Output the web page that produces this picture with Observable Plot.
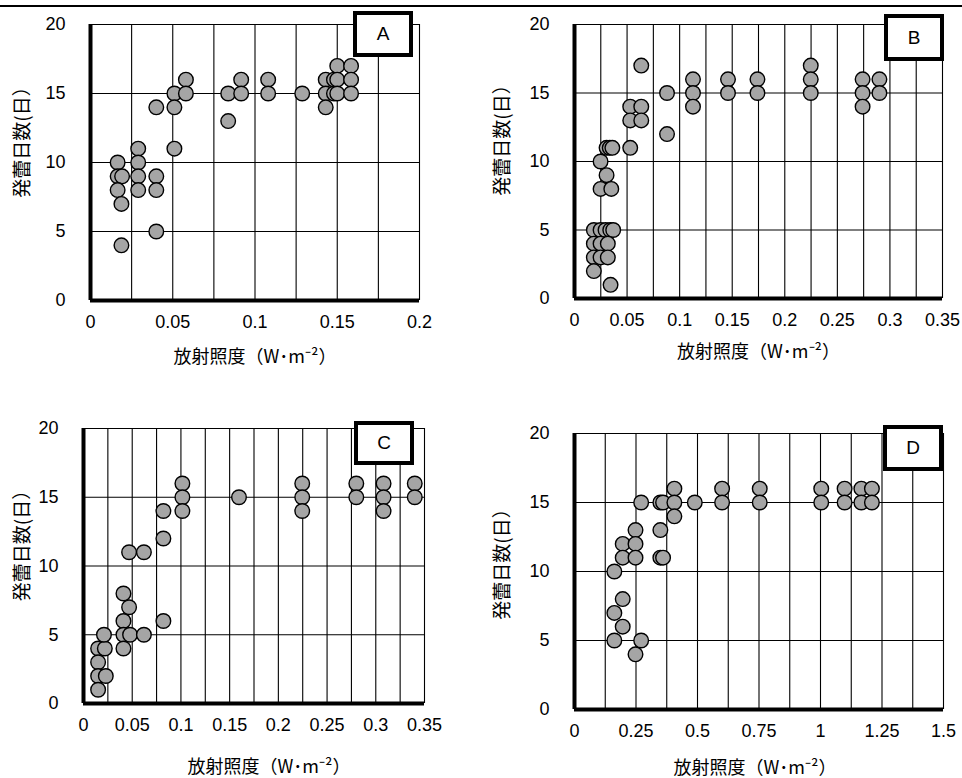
<!DOCTYPE html>
<html>
<head>
<meta charset="utf-8">
<script src="https://cdn.jsdelivr.net/npm/d3@7"></script>
<script src="https://cdn.jsdelivr.net/npm/@observablehq/plot@0.6"></script>
<style>
  html, body { margin: 0; padding: 0; background: #fff; }
  #wrap { position: relative; width: 962px; height: 778px; overflow: hidden; background: #fff; }
  .topline { position: absolute; left: 0; top: 5px; width: 962px; height: 0; border-top: 2.5px solid #000; }
  .panel { position: absolute; }
  .tag { position: absolute; box-sizing: border-box; border: 4px solid #000; background: #fff;
         font-family: "Liberation Sans", Arial, sans-serif; font-size: 19px; color: #000;
         display: flex; align-items: center; justify-content: center; }
</style>
</head>
<body>
<div id="wrap"><div class="topline"></div></div>
<script>
// ---------- data ----------
const yTitle = "発蕾日数(日）";
const xTitle = "放射照度（W･m⁻²）";
const yTicks = [0, 5, 10, 15, 20];
const yGrid = [5, 10, 15, 20];

// Panel A
const aX = [0.0165,0.0165,0.0192,0.0165,0.0188,0.0188,
            0.029,0.029,0.029,0.029,
            0.040,0.040,0.040,0.040,
            0.051,0.051,0.051,
            0.058,0.058,
            0.0837,0.0837,
            0.0916,0.0916,
            0.108,0.108,
            0.1287,
            0.143,0.143,0.143,
            0.148,0.148,
            0.150,0.150,0.150,
            0.1584,0.1584,0.1584];
const aY = [10,9,9,8,7,4,
            11,10,9,8,
            9,8,5,14,
            15,14,11,
            16,15,
            15,13,
            16,15,
            16,15,
            15,
            16,15,14,
            16,15,
            17,16,15,
            17,16,15];
const aTicks = [0, 0.05, 0.1, 0.15, 0.2];

// Panel B
const bX = [0.0184,0.0248,0.0295,0.034,0.0368,
            0.0184,0.0248,0.0317,
            0.0184,0.0248,0.0317,
            0.0184,
            0.0343,
            0.0248,
            0.0305,
            0.0248,0.035,
            0.0305,0.0335,0.036,
            0.053,0.053,0.053,
            0.0635,0.0635,0.0635,
            0.088,0.088,
            0.1127,0.1127,0.1127,
            0.146,0.146,
            0.174,0.174,
            0.2247,0.2247,0.2247,
            0.274,0.274,0.274,
            0.290,0.290];
const bY = [5,5,5,5,5,
            4,4,4,
            3,3,3,
            2,
            1,
            10,
            9,
            8,8,
            11,11,11,
            14,13,11,
            17,14,13,
            15,12,
            16,15,14,
            16,15,
            16,15,
            17,16,15,
            16,15,14,
            16,15];
const bTicks = [0, 0.05, 0.1, 0.15, 0.2, 0.25, 0.3, 0.35];

// Panel C
const cX = [0.015,0.0219,0.015,0.015,0.0229,0.015,
            0.021,
            0.041,0.0468,0.041,0.041,0.0478,0.041,
            0.062,
            0.0468,0.062,
            0.082,0.082,0.082,
            0.1015,0.1015,0.1015,
            0.1596,
            0.2245,0.2245,0.2245,
            0.280,0.280,
            0.308,0.308,0.308,
            0.340,0.340];
const cY = [4,4,3,2,2,1,
            5,
            8,7,6,5,5,4,
            5,
            11,11,
            14,12,6,
            16,15,14,
            15,
            16,15,14,
            16,15,
            16,15,14,
            16,15];
const cTicks = [0, 0.05, 0.1, 0.15, 0.2, 0.25, 0.3, 0.35];

// Panel D
const dX = [0.162,0.162,0.162,
            0.196,0.196,0.196,0.196,
            0.248,0.248,0.248,0.248,
            0.271,0.271,
            0.349,0.36,0.349,0.349,0.36,
            0.406,0.406,0.406,
            0.489,
            0.60,0.60,
            0.753,0.753,
            1.003,1.003,
            1.098,1.098,
            1.166,1.166,
            1.209,1.209];
const dY = [10,7,5,
            12,11,8,6,
            13,12,11,4,
            15,5,
            15,15,13,11,11,
            16,15,14,
            15,
            16,15,
            16,15,
            16,15,
            16,15,
            16,15,
            16,15];
const dTicks = [0, 0.25, 0.5, 0.75, 1, 1.25, 1.5];

// ---------- drawing ----------
const tickFont = '"Liberation Sans", Arial, sans-serif';
const cjkFont = '"Noto Sans CJK JP", "Noto Sans CJK SC", sans-serif';

function panel(cfg) {
  const data = cfg.xs.map((x, i) => ({x, y: cfg.ys[i]}));
  const [x0, x1] = cfg.domain;
  const n = Math.round((x1 - x0) / cfg.step);
  const grid = d3.range(1, n + 1).map(i => +(x0 + i * cfg.step).toFixed(4));
  const chart = Plot.plot({
    width: cfg.w, height: cfg.h,
    marginLeft: cfg.ml, marginRight: cfg.mr, marginTop: cfg.mt, marginBottom: cfg.mb,
    style: {fontFamily: tickFont, fontSize: "18px", color: "#000", background: "transparent", overflow: "visible"},
    x: {domain: cfg.domain, ticks: cfg.ticks, tickFormat: d => String(d), tickSize: 0, tickPadding: 15, label: null},
    y: {domain: [0, 20], ticks: yTicks, tickSize: 0, tickPadding: 25, label: null},
    marks: [
      Plot.ruleX(grid, {stroke: "#000", strokeWidth: 1.1}),
      Plot.ruleY(yGrid, {stroke: "#000", strokeWidth: 1.1}),
      Plot.ruleX([x0], {stroke: "#000", strokeWidth: 4}),
      Plot.ruleY([0], {stroke: "#000", strokeWidth: 4}),
      Plot.dot(data, {x: "x", y: "y", r: 7.3, fill: "#a5a5a5", stroke: "#000", strokeWidth: 1.4}),
      Plot.text([yTitle], {frameAnchor: "left", rotate: -90, textAnchor: "middle", lineAnchor: "middle",
        dx: cfg.ytdx, dy: cfg.ytdy, fontSize: 19, fontFamily: cjkFont, fill: "#000"}),
      Plot.text([xTitle], {frameAnchor: "bottom", textAnchor: "middle", lineAnchor: "middle",
        dx: cfg.xtdx, dy: cfg.xtdy, fontSize: 18, fontFamily: cjkFont, fill: "#000"})
    ]
  });
  const holder = document.createElement("div");
  holder.className = "panel";
  holder.style.left = cfg.left + "px";
  holder.style.top = cfg.top + "px";
  holder.appendChild(chart);
  document.getElementById("wrap").appendChild(holder);

  const tag = document.createElement("div");
  tag.className = "tag";
  tag.textContent = cfg.tag;
  Object.assign(tag.style, {left: cfg.tagBox[0] + "px", top: cfg.tagBox[1] + "px",
    width: cfg.tagBox[2] + "px", height: cfg.tagBox[3] + "px"});
  document.getElementById("wrap").appendChild(tag);
}

panel({xs: aX, ys: aY, domain: [0, 0.2], step: 0.025, ticks: aTicks,
  left: 0, top: 0, w: 481, h: 389, ml: 90, mr: 62, mt: 24, mb: 89,
  ytdx: -68, ytdy: -25, xtdx: 0, xtdy: 57, tag: "A", tagBox: [353, 11, 60, 46]});
panel({xs: bX, ys: bY, domain: [0, 0.35], step: 0.025, ticks: bTicks,
  left: 481, top: 0, w: 481, h: 389, ml: 93, mr: 20, mt: 24, mb: 91,
  ytdx: -72, ytdy: -26, xtdx: 0, xtdy: 54, tag: "B", tagBox: [884, 14, 60, 47]});
panel({xs: cX, ys: cY, domain: [0, 0.35], step: 0.025, ticks: cTicks,
  left: 0, top: 389, w: 481, h: 389, ml: 83, mr: 57, mt: 39, mb: 75,
  ytdx: -61, ytdy: -25, xtdx: 15, xtdy: 64, tag: "C", tagBox: [354, 421, 60, 44]});
panel({xs: dX, ys: dY, domain: [0, 1.5], step: 0.125, ticks: dTicks,
  left: 481, top: 389, w: 481, h: 389, ml: 93, mr: 19, mt: 44, mb: 69,
  ytdx: -72, ytdy: -12, xtdx: -4, xtdy: 59, tag: "D", tagBox: [883, 425, 60, 46]});
</script>
</body>
</html>
